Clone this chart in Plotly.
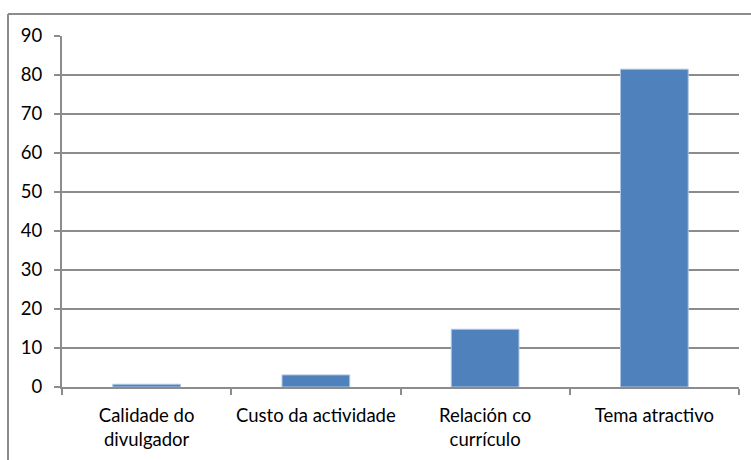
import plotly.graph_objects as go

categories = ["Calidade do<br>divulgador", "Custo da actividade", "Relación co<br>currículo", "Tema atractivo"]
values = [0.7, 3.1, 14.8, 81.5]
y_ticks = [0, 10, 20, 30, 40, 50, 60, 70, 80, 90]

fig = go.Figure(go.Bar(
    x=categories, y=values, width=0.4,
    marker=dict(color="#4F81BD", line=dict(color="#B0C6E2", width=1)),
))

L, R, T, B = 62, 12, 36, 73
W, H = 751, 460
pw, ph = W - L - R, H - T - B

def px_x(p):
    return (p - L) / pw

def px_y(p):
    return (H - B - p) / ph

fig.update_layout(
    width=W, height=H,
    margin=dict(l=L, r=R, t=T, b=B),
    paper_bgcolor="white", plot_bgcolor="white",
    font=dict(family="Lato, Liberation Sans, sans-serif", size=18.5, color="black"),
    showlegend=False,
    bargap=0.6,
    xaxis=dict(
        showline=True, linecolor="#8C8C8C", linewidth=2,
        ticks="outside", ticklen=6, tickcolor="#8C8C8C", tickwidth=1.5,
        tickson="boundaries", showgrid=False, fixedrange=True,
        ticklabelstandoff=11, tickangle=0, automargin=False,
    ),
    yaxis=dict(
        range=[0, 90], tickvals=y_ticks, showline=True, linecolor="#8C8C8C", linewidth=2,
        ticks="outside", ticklen=6, tickcolor="#8C8C8C", tickwidth=1.5,
        showgrid=True, gridcolor="#8C8C8C", gridwidth=1.5, zeroline=False,
        ticklabelstandoff=8, fixedrange=True, automargin=False,
    ),
    shapes=[
        dict(type="line", xref="paper", yref="paper", x0=px_x(8), x1=px_x(760), y0=px_y(14), y1=px_y(14),
             line=dict(color="#8C8C8C", width=2)),
        dict(type="line", xref="paper", yref="paper", x0=px_x(8), x1=px_x(8), y0=px_y(14), y1=px_y(470),
             line=dict(color="#8C8C8C", width=2)),
    ],
)

fig.write_html("out.html", config={"displayModeBar": False},
               post_script="document.body.style.margin='0';document.body.style.overflow='hidden';")
